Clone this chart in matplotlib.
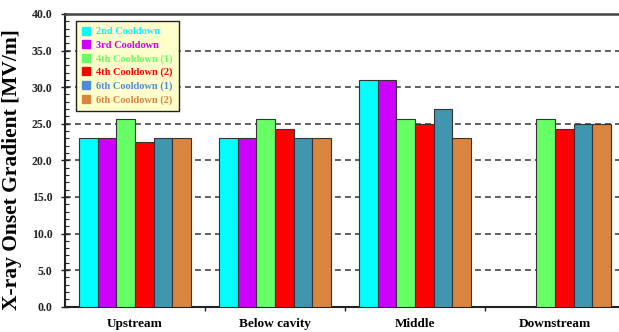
import numpy as np
import matplotlib
matplotlib.use("Agg")
import matplotlib.pyplot as plt
from matplotlib.lines import Line2D
from matplotlib.ticker import MultipleLocator, FormatStrFormatter

# Locations along the cavity and onset gradients per cooldown [MV/m]
locations = ["Upstream", "Below cavity", "Middle", "Downstream"]
series_names = ["2nd Cooldown", "3rd Cooldown", "4th Cooldown (1)",
                "4th Cooldown (2)", "6th Cooldown (1)", "6th Cooldown (2)"]
cooldown_2nd = [23.1, 23.1, 31.0, np.nan]
cooldown_3rd = [23.1, 23.1, 31.0, np.nan]
cooldown_4th_1 = [25.6, 25.6, 25.6, 25.6]
cooldown_4th_2 = [22.5, 24.3, 25.0, 24.3]
cooldown_6th_1 = [23.1, 23.1, 27.0, 25.0]
cooldown_6th_2 = [23.0, 23.0, 23.0, 24.9]

bar_colors = ["#00FFFF", "#CC00FF", "#66FF66", "#FF0000", "#4096AE", "#D9853F"]
legend_colors = ["#00FFFF", "#CC00FF", "#66FF66", "#FF0000", "#4F8BD4", "#D9853F"]

series = [cooldown_2nd, cooldown_3rd, cooldown_4th_1,
          cooldown_4th_2, cooldown_6th_1, cooldown_6th_2]

plt.rcParams["font.family"] = ["Liberation Serif", "DejaVu Serif"]
plt.rcParams["font.weight"] = "bold"

fig = plt.figure(figsize=(6.19, 3.32), dpi=100)
ax = fig.add_axes([65 / 619, (332 - 306.7) / 332, 560 / 619, 292.7 / 332])

x = np.arange(len(locations))
bw = 0.133
for i, (vals, col) in enumerate(zip(series, bar_colors)):
    offs = (i - 2.5) * bw
    ax.bar(x + offs, vals, width=bw, color=col, edgecolor="#333333",
           linewidth=0.8, zorder=3)

ax.set_xlim(-0.5, len(locations) - 0.5)
ax.set_ylim(0, 40)

# y axis
ax.yaxis.set_major_locator(MultipleLocator(5))
ax.yaxis.set_minor_locator(MultipleLocator(1))
ax.yaxis.set_major_formatter(FormatStrFormatter("%.1f"))
ax.tick_params(axis="y", which="major", direction="inout", length=6,
               width=1.0, labelsize=8.5, pad=6, colors="#222222")
ax.tick_params(axis="y", which="minor", direction="in", length=3,
               width=0.8, colors="#222222")
for lbl in ax.get_yticklabels():
    lbl.set_fontweight("bold")

# dashed gridlines at the major values
for yv in np.arange(5, 40, 5):
    ax.axhline(yv, color="#444444", linestyle=(0, (3.5, 2.5)),
               linewidth=1.2, zorder=1)

# x axis: category labels at centers, tick marks at group boundaries
ax.set_xticks(x)
ax.set_xticklabels(locations, fontsize=9.5, fontweight="bold")
ax.tick_params(axis="x", which="major", length=0, pad=8)
ax.set_xticks(np.arange(0.5, len(locations) - 0.5, 1.0), minor=True)
ax.tick_params(axis="x", which="minor", direction="out", length=3,
               width=1.0, colors="#222222")

for side in ["left", "bottom"]:
    ax.spines[side].set_linewidth(1.5)
    ax.spines[side].set_color("#222222")
ax.spines["top"].set_linewidth(1.8)
ax.spines["top"].set_color("#444444")
ax.spines["right"].set_visible(False)

ax.set_ylabel("X-ray Onset Gradient [MV/m]", fontsize=15.5, fontweight="bold")
ax.yaxis.set_label_coords(-0.077, 0.469)

handles = [Line2D([], [], linestyle="none", marker="s", markersize=6,
                  markerfacecolor=c, markeredgecolor=c) for c in legend_colors]
leg = ax.legend(handles, series_names, loc="upper left",
                bbox_to_anchor=(0.0196, 0.977), borderaxespad=0,
                frameon=True, fancybox=False,
                facecolor="#FFFFCC", edgecolor="#222222", framealpha=1,
                prop={"family": "Liberation Serif", "weight": "bold", "size": 7.5},
                handlelength=0.8, handletextpad=0.5, labelspacing=0.4,
                borderpad=0.6)
leg.get_frame().set_linewidth(1.0)
leg.set_zorder(5)
for txt, c in zip(leg.get_texts(), legend_colors):
    txt.set_color(c)

fig.savefig("out.png", dpi=100)
